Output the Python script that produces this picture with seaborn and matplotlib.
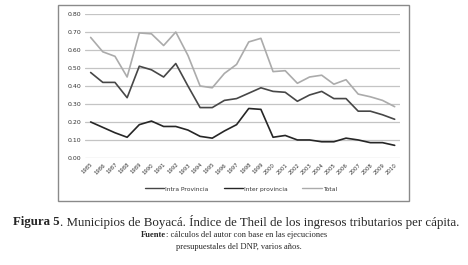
"""
Figura 5 - Indice de Theil, municipios de Boyaca
"""
import numpy as np
import pandas as pd
import matplotlib
matplotlib.use('Agg')
import matplotlib.pyplot as plt
import matplotlib.patches as mpatches
import seaborn as sns

# ── data ──────────────────────────────────────────────────────────
years = [str(y) for y in range(1985, 2011)]
intra = [0.475, 0.42, 0.42, 0.335, 0.51, 0.49, 0.45, 0.525, 0.40, 0.28,
         0.28, 0.32, 0.33, 0.36, 0.39, 0.37, 0.365, 0.315, 0.35, 0.37,
         0.33, 0.33, 0.26, 0.26, 0.24, 0.215]
inter = [0.20, 0.17, 0.14, 0.115, 0.185, 0.205, 0.175, 0.175, 0.155, 0.12,
         0.11, 0.15, 0.185, 0.275, 0.27, 0.115, 0.125, 0.10, 0.10, 0.09,
         0.09, 0.11, 0.10, 0.085, 0.085, 0.07]
total = [0.67, 0.59, 0.565, 0.45, 0.695, 0.69, 0.625, 0.70, 0.57, 0.40,
         0.39, 0.47, 0.52, 0.645, 0.665, 0.48, 0.485, 0.415, 0.45, 0.46,
         0.41, 0.435, 0.355, 0.34, 0.32, 0.285]
series_names = ['Intra Provincia', 'Inter provincia', 'Total']
series_cols = {'Intra Provincia': '#474747', 'Inter provincia': '#262626', 'Total': '#ababab'}

df = pd.DataFrame({'year': years * 3,
                   'idx': list(range(len(years))) * 3,
                   'value': intra + inter + total,
                   'serie': np.repeat(series_names, len(years))})

# ── figure ────────────────────────────────────────────────────────
sns.set_style('white')
plt.rcParams['font.family'] = ['DejaVu Sans']
fig = plt.figure(figsize=(4.68, 2.65), dpi=100)
ax = fig.add_axes([0.182, 0.404, 0.673, 0.543])

for y in np.arange(0, 0.81, 0.1):
    ax.axhline(y, color='#c4c4c4', lw=0.9, zorder=0)

sns.lineplot(data=df, x='idx', y='value', hue='serie', hue_order=series_names,
             palette=series_cols, linewidth=1.2, ax=ax, legend=False)

ax.set_xlim(-0.45, len(years) - 0.55)
ax.set_ylim(0, 0.8)
ax.set_yticks(np.arange(0, 0.81, 0.1))
ax.set_yticklabels([f'{v:.2f}' for v in np.arange(0, 0.81, 0.1)], fontsize=4.5, color='#333333')
ax.set_xticks(range(len(years)))
ax.set_xticklabels(years, fontsize=3.9, color='#333333', rotation=45,
                   ha='right', rotation_mode='anchor')
ax.tick_params(length=0, pad=3)
ax.set_xlabel(''); ax.set_ylabel('')
for s in ax.spines.values():
    s.set_visible(False)

handles = [plt.Line2D([], [], color=series_cols[n], lw=1.0) for n in series_names]
fig.legend(handles, series_names, loc='center', bbox_to_anchor=(0.515, 0.287),
           ncol=3, frameon=False, fontsize=4.3, handlelength=3.2,
           handletextpad=0.2, columnspacing=2.5, labelcolor='#333333')

# outer frame around the chart
fig.patches.append(mpatches.Rectangle((58 / 468, 1 - 201 / 265), 351 / 468, 196 / 265,
                                      transform=fig.transFigure, fill=False,
                                      edgecolor='#8a8a8a', lw=1.0))

# caption: bold lead-in + regular text, centred as one line
serif = ['Liberation Serif', 'DejaVu Serif']


def caption_line(y_px, bold, rest, size, xc=0.5):
    y = 1 - y_px / 265
    tb = fig.text(0, y, bold, fontsize=size, family=serif, weight='bold', va='center', ha='left')
    tr = fig.text(0, y, rest, fontsize=size, family=serif, va='center', ha='left')
    fig.canvas.draw()
    wb = tb.get_window_extent().width / fig.bbox.width
    wr = tr.get_window_extent().width / fig.bbox.width
    x0 = xc - (wb + wr) / 2
    tb.set_x(x0)
    tr.set_x(x0 + wb)


caption_line(222, 'Figura 5',
             '. Municipios de Boyacá. Índice de Theil de los ingresos tributarios per cápita.',
             9.3, xc=0.505)
caption_line(235, 'Fuente', ': cálculos del autor con base en las ejecuciones', 6.1, xc=0.5)
fig.text(0.51, 1 - 247 / 265, 'presupuestales del DNP, varios años.',
         fontsize=6.1, family=serif, va='center', ha='center')

plt.savefig('out.png', dpi=100)
plt.close()
